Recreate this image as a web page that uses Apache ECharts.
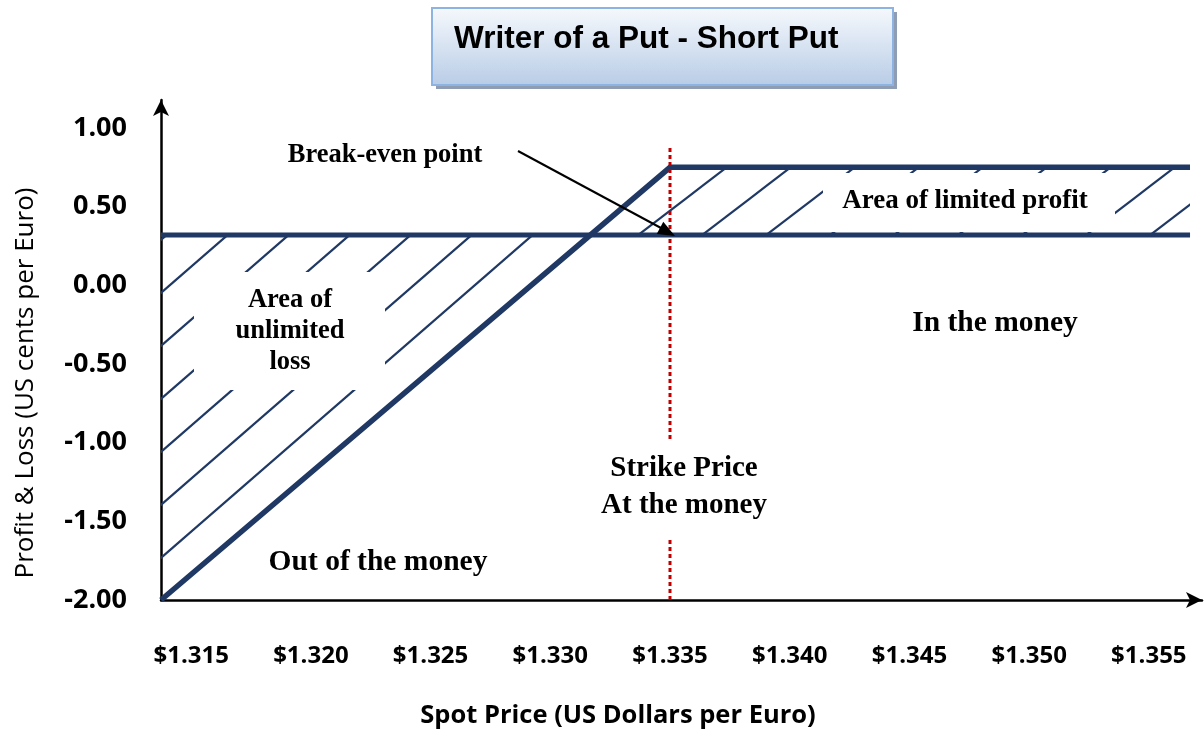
<!DOCTYPE html>
<html><head><meta charset="utf-8">
<script src="https://cdn.jsdelivr.net/npm/echarts@6/dist/echarts.min.js"></script>
<style>html,body{margin:0;padding:0;background:#fff}#c{width:1204px;height:731px}</style>
</head><body><div id="c"></div>
<script>
// ---- data ----
const xStart = 1.31374;
const xEnd = 1.35672;
const strikePrice = 1.335;
const breakEven = 1.33168;
const premiumLevel = 0.75;
const referenceLevel = 0.32;
const maxLoss = -2.00;
const strikeLineTop = 0.88;

const payoffLine = [[xStart, maxLoss], [strikePrice, premiumLevel], [xEnd, premiumLevel]];
const levelLine = [[xStart, referenceLevel], [xEnd, referenceLevel]];
const lossArea = [[xStart, maxLoss], [breakEven, referenceLevel], [xStart, referenceLevel]];
const profitArea = [[breakEven, referenceLevel], [strikePrice, premiumLevel], [xEnd, premiumLevel], [xEnd, referenceLevel]];
const strikeLine = [[strikePrice, maxLoss], [strikePrice, strikeLineTop]];

const xTickValues = [1.315, 1.320, 1.325, 1.330, 1.335, 1.340, 1.345, 1.350, 1.355];
const xTickLabels = ['$1.315', '$1.320', '$1.325', '$1.330', '$1.335', '$1.340', '$1.345', '$1.350', '$1.355'];
const yTickValues = [-2, -1.5, -1, -0.5, 0, 0.5, 1];
const yTickLabels = ['-2.00', '-1.50', '-1.00', '-0.50', '0.00', '0.50', '1.00'];

// ---- styles ----
const NAVY = '#1f3864';
function makeHatch(W, H, c, color, lw) {
  const cv = document.createElement('canvas');
  cv.width = W; cv.height = H;
  const ctx = cv.getContext('2d');
  ctx.strokeStyle = color; ctx.lineWidth = lw;
  for (let n = -2; n <= 3; n++) {
    const k = n + c;
    ctx.beginPath();
    ctx.moveTo(-W, H * (k + 1));
    ctx.lineTo(2 * W, H * (k - 2));
    ctx.stroke();
  }
  return { image: cv, repeat: 'repeat' };
}
const lossHatch = makeHatch(61, 53, 0.165, NAVY, 2.2);
const profitHatch = makeHatch(64, 49, 0.77, NAVY, 2.2);

function polySeries(points, fill) {
  return {
    type: 'custom', silent: true, z: 1,
    data: points,
    encode: { x: 0, y: 1 },
    renderItem: function (params, api) {
      if (params.dataIndex !== 0) return null;
      return {
        type: 'polygon',
        shape: { points: points.map(p => api.coord(p)) },
        style: { fill: fill, stroke: null }
      };
    }
  };
}

const serif = '"Liberation Serif", "Times New Roman", serif';
const sans = '"Open Sans", sans-serif';

const chart = echarts.init(document.getElementById('c'), null, { renderer: 'canvas' });
chart.setOption({
  animation: false,
  backgroundColor: '#ffffff',
  grid: { left: 161, right: 2, top: 100, bottom: 131, containLabel: false, outerBoundsMode: 'none' },
  xAxis: {
    type: 'value', min: xStart, max: 1.35722,
    axisLine: { show: true, onZero: false, symbol: ['none', 'arrow'], symbolSize: [12, 16],
      lineStyle: { color: '#000', width: 2.5 } },
    axisTick: { show: false }, splitLine: { show: false },
    axisLabel: {
      customValues: xTickValues,
      formatter: v => { const i = xTickValues.findIndex(t => Math.abs(t - v) < 1e-7); return i >= 0 ? xTickLabels[i] : ''; },
      fontFamily: sans, fontWeight: 'bold', fontSize: 24, color: '#000', margin: 44
    }
  },
  yAxis: {
    type: 'value', min: maxLoss, max: 1.178,
    axisLine: { show: true, onZero: false, symbol: ['none', 'arrow'], symbolSize: [12, 16],
      lineStyle: { color: '#000', width: 2.5 } },
    axisTick: { show: false }, splitLine: { show: false },
    axisLabel: {
      customValues: yTickValues,
      formatter: v => { const i = yTickValues.findIndex(t => Math.abs(t - v) < 1e-7); return i >= 0 ? yTickLabels[i] : ''; },
      fontFamily: sans, fontWeight: 'bold', fontSize: 27, color: '#000', margin: 34
    }
  },
  series: [
    polySeries(lossArea, lossHatch),
    polySeries(profitArea, profitHatch),
    { type: 'line', data: levelLine, symbol: 'none', silent: true, z: 3,
      lineStyle: { color: NAVY, width: 5 } },
    { type: 'line', data: payoffLine, symbol: 'none', silent: true, z: 3,
      lineStyle: { color: NAVY, width: 5.5, join: 'miter' } },
    { type: 'line', data: strikeLine, symbol: 'none', silent: true, z: 4,
      lineStyle: { color: '#c00000', width: 3, type: [4, 3] } }
  ],
  graphic: [
    // title box
    { type: 'rect', z: 100, shape: { x: 436, y: 12, width: 461, height: 77 }, style: { fill: '#8e9db4' } },
    { type: 'rect', z: 101, shape: { x: 432, y: 8, width: 461, height: 77 },
      style: { fill: new echarts.graphic.LinearGradient(0, 0, 0, 1, [{ offset: 0, color: '#f6f9fd' }, { offset: 1, color: '#b8cce6' }]),
        stroke: '#8db3e2', lineWidth: 2 } },
    { type: 'text', z: 102,
      style: { text: 'Writer of a Put - Short Put', x: 454, y: 39, align: 'left', verticalAlign: 'middle',
        fontFamily: '"Liberation Sans", Arial, sans-serif', fontWeight: 'bold', fontSize: 31.5, fill: '#000' } },
    // white boxes behind annotations
    { type: 'rect', z: 100, shape: { x: 194, y: 272, width: 191, height: 118 }, style: { fill: '#fff' } },
    { type: 'rect', z: 100, shape: { x: 823, y: 173, width: 292, height: 59 }, style: { fill: '#fff' } },
    { type: 'rect', z: 100, shape: { x: 592, y: 439, width: 186, height: 99 }, style: { fill: '#fff' } },
    // annotations
    { type: 'text', z: 103, style: { text: 'Area of\nunlimited\nloss', x: 290, y: 331, align: 'center', verticalAlign: 'middle',
        lineHeight: 31, fontFamily: serif, fontWeight: 'bold', fontSize: 26.5, fill: '#000' } },
    { type: 'text', z: 103, style: { text: 'Area of limited profit', x: 965, y: 201, align: 'center', verticalAlign: 'middle',
        fontFamily: serif, fontWeight: 'bold', fontSize: 27, fill: '#000' } },
    { type: 'text', z: 103, style: { text: 'Strike Price\nAt the money', x: 684, y: 487, align: 'center', verticalAlign: 'middle',
        lineHeight: 37, fontFamily: serif, fontWeight: 'bold', fontSize: 29, fill: '#000' } },
    { type: 'text', z: 103, style: { text: 'Break-even point', x: 385, y: 155, align: 'center', verticalAlign: 'middle',
        fontFamily: serif, fontWeight: 'bold', fontSize: 26.5, fill: '#000' } },
    { type: 'text', z: 103, style: { text: 'Out of the money', x: 378, y: 562, align: 'center', verticalAlign: 'middle',
        fontFamily: serif, fontWeight: 'bold', fontSize: 29.5, fill: '#000' } },
    { type: 'text', z: 103, style: { text: 'In the money', x: 995, y: 323, align: 'center', verticalAlign: 'middle',
        fontFamily: serif, fontWeight: 'bold', fontSize: 29.5, fill: '#000' } },
    // arrow
    { type: 'line', z: 104, shape: { x1: 518, y1: 151, x2: 661, y2: 228 }, style: { stroke: '#000', lineWidth: 2 } },
    { type: 'polygon', z: 104, shape: { points: [[675, 236], [656.7, 234.1], [663.3, 221.7]] }, style: { fill: '#000' } },
    // axis titles
    { type: 'text', z: 103, x: 26, y: 383, rotation: Math.PI / 2,
      style: { text: 'Profit & Loss (US cents per Euro)', x: 0, y: 0, align: 'center', verticalAlign: 'middle',
        fontFamily: sans, fontSize: 26, fill: '#000' } },
    { type: 'text', z: 103, style: { text: 'Spot Price (US Dollars per Euro)', x: 618, y: 716, align: 'center', verticalAlign: 'middle',
        fontFamily: sans, fontWeight: 'bold', fontSize: 25.5, fill: '#000' } }
  ]
});
</script>
</body></html>
